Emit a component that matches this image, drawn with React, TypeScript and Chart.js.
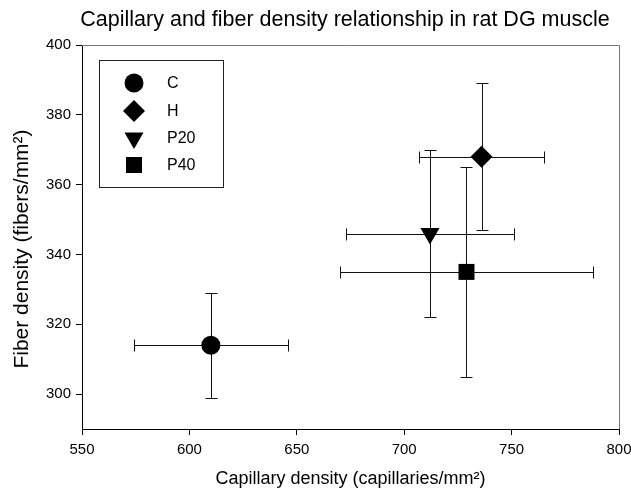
import React, { useEffect, useRef } from "react";
import { Chart, registerables } from "chart.js";

Chart.register(...registerables);

const groups = ["C", "H", "P20", "P40"];
const capillary = [610, 736, 712, 729];
const capillaryErr = [36, 29, 39, 59];
const fiber = [314, 368, 346, 335];
const fiberErr = [15, 21, 24, 30];
const pointStyles = ["circle", "rectRot", "triangle", "rect"];
const pointRotations = [0, 0, 180, 0];
const pointRadii = [9.5, 11, 11, 11.3];

const FONT = "'Liberation Sans', Arial, sans-serif";
const TITLE = "Capillary and fiber density relationship in rat DG muscle";
const X_TITLE = "Capillary density (capillaries/mm\u00B2)";
const Y_TITLE = "Fiber density (fibers/mm\u00B2)";

function drawMarker(ctx: CanvasRenderingContext2D, style: string, r: number, rot: number, x: number, y: number) {
  ctx.beginPath();
  if (style === "circle") {
    ctx.arc(x, y, r, 0, Math.PI * 2);
  } else if (style === "rectRot") {
    ctx.moveTo(x - r, y);
    ctx.lineTo(x, y - r);
    ctx.lineTo(x + r, y);
    ctx.lineTo(x, y + r);
  } else if (style === "triangle") {
    let rad = (rot * Math.PI) / 180;
    for (let k = 0; k < 3; k++) {
      const px = x + Math.sin(rad) * r;
      const py = y - Math.cos(rad) * r;
      if (k === 0) ctx.moveTo(px, py);
      else ctx.lineTo(px, py);
      rad += (2 * Math.PI) / 3;
    }
  } else if (style === "rect") {
    const s = Math.SQRT1_2 * r;
    ctx.rect(x - s, y - s, 2 * s, 2 * s);
  }
  ctx.closePath();
  ctx.fill();
}

const decorPlugin = {
  id: "decor",
  beforeDatasetsDraw(chart: any) {
    const ctx = chart.ctx;
    const xs = chart.scales.x;
    const ys = chart.scales.y;
    const ca = chart.chartArea;
    ctx.save();
    // frame top/right
    ctx.strokeStyle = "#777";
    ctx.lineWidth = 1;
    ctx.beginPath();
    ctx.moveTo(ca.left, ca.top + 0.5);
    ctx.lineTo(ca.right + 0.5, ca.top + 0.5);
    ctx.lineTo(ca.right + 0.5, ca.bottom);
    ctx.stroke();
    // error bars
    ctx.strokeStyle = "#111";
    ctx.lineWidth = 1;
    const cap = 6;
    for (let i = 0; i < groups.length; i++) {
      const px = Math.round(xs.getPixelForValue(capillary[i])) + 0.5;
      const py = Math.round(ys.getPixelForValue(fiber[i])) + 0.5;
      const x0 = Math.round(xs.getPixelForValue(capillary[i] - capillaryErr[i])) + 0.5;
      const x1 = Math.round(xs.getPixelForValue(capillary[i] + capillaryErr[i])) + 0.5;
      const y0 = Math.round(ys.getPixelForValue(fiber[i] + fiberErr[i])) + 0.5;
      const y1 = Math.round(ys.getPixelForValue(fiber[i] - fiberErr[i])) + 0.5;
      ctx.beginPath();
      ctx.moveTo(x0, py);
      ctx.lineTo(x1, py);
      ctx.moveTo(x0, py - cap);
      ctx.lineTo(x0, py + cap);
      ctx.moveTo(x1, py - cap);
      ctx.lineTo(x1, py + cap);
      ctx.moveTo(px, y0);
      ctx.lineTo(px, y1);
      ctx.moveTo(px - cap, y0);
      ctx.lineTo(px + cap, y0);
      ctx.moveTo(px - cap, y1);
      ctx.lineTo(px + cap, y1);
      ctx.stroke();
    }
    ctx.restore();
  },
  afterDraw(chart: any) {
    const ctx = chart.ctx;
    const ca = chart.chartArea;
    ctx.save();
    ctx.fillStyle = "#000";
    // title
    ctx.font = `21.5px ${FONT}`;
    ctx.textAlign = "center";
    ctx.textBaseline = "middle";
    ctx.fillText(TITLE, 345, 20);
    // axis titles
    ctx.font = `18px ${FONT}`;
    ctx.fillText(X_TITLE, (ca.left + ca.right) / 2, 479);
    ctx.save();
    ctx.font = `21px ${FONT}`;
    ctx.translate(22, 249);
    ctx.rotate(-Math.PI / 2);
    ctx.fillText(Y_TITLE, 0, 0);
    ctx.restore();
    // legend
    const bx = 99, by = 60, bw = 124, bh = 127;
    ctx.strokeStyle = "#222";
    ctx.lineWidth = 1;
    ctx.strokeRect(bx + 0.5, by + 0.5, bw, bh);
    const rowY = [83, 111, 138, 165];
    ctx.font = `16px ${FONT}`;
    ctx.textAlign = "left";
    for (let i = 0; i < groups.length; i++) {
      ctx.fillStyle = "#000";
      drawMarker(ctx, pointStyles[i], pointRadii[i], pointRotations[i], 134, rowY[i]);
      ctx.fillText(groups[i], 167, rowY[i] + 1);
    }
    ctx.restore();
  },
};

export default function App() {
  const ref = useRef<HTMLCanvasElement | null>(null);
  useEffect(() => {
    if (!ref.current) return;
    const chart = new Chart(ref.current, {
      type: "scatter",
      data: {
        datasets: groups.map((g, i) => ({
          label: g,
          data: [{ x: capillary[i], y: fiber[i] }],
          pointStyle: pointStyles[i] as any,
          rotation: pointRotations[i],
          pointRadius: pointRadii[i],
          pointHoverRadius: pointRadii[i],
          backgroundColor: "#000",
          borderColor: "#000",
          borderWidth: 0,
        })),
      },
      options: {
        responsive: false,
        animation: false,
        devicePixelRatio: 1,
        layout: { padding: { top: 45, right: 0, left: 0, bottom: 0 } },
        plugins: {
          legend: { display: false },
          tooltip: { enabled: false },
          title: { display: false },
        },
        scales: {
          x: {
            type: "linear",
            min: 550,
            max: 800,
            ticks: {
              stepSize: 50,
              color: "#000",
              font: { family: FONT, size: 15 },
              padding: 6,
              maxRotation: 0,
            },
            grid: {
              drawOnChartArea: false,
              drawTicks: true,
              tickLength: 6,
              color: "#000",
            },
            border: { display: true, color: "#000", width: 1 },
            afterFit(s: any) {
              s.height = 64;
              s.paddingRight = 12;
              s.paddingLeft = 0;
            },
          },
          y: {
            type: "linear",
            min: 290,
            max: 400,
            ticks: {
              stepSize: 20,
              includeBounds: false,
              color: "#000",
              font: { family: FONT, size: 15 },
              padding: 5,
            },
            grid: {
              drawOnChartArea: false,
              drawTicks: true,
              tickLength: 6,
              color: "#000",
            },
            border: { display: true, color: "#000", width: 1 },
            afterFit(s: any) {
              s.width = 82;
              s.paddingTop = 0;
              s.paddingBottom = 0;
            },
          },
        },
      },
      plugins: [decorPlugin],
    });
    return () => chart.destroy();
  }, []);
  return (
    <div style={{ position: "absolute", left: 0, top: 0, width: 631, height: 493, background: "#fff" }}>
      <canvas ref={ref} width={631} height={493} style={{ width: 631, height: 493, display: "block" }} />
    </div>
  );
}
